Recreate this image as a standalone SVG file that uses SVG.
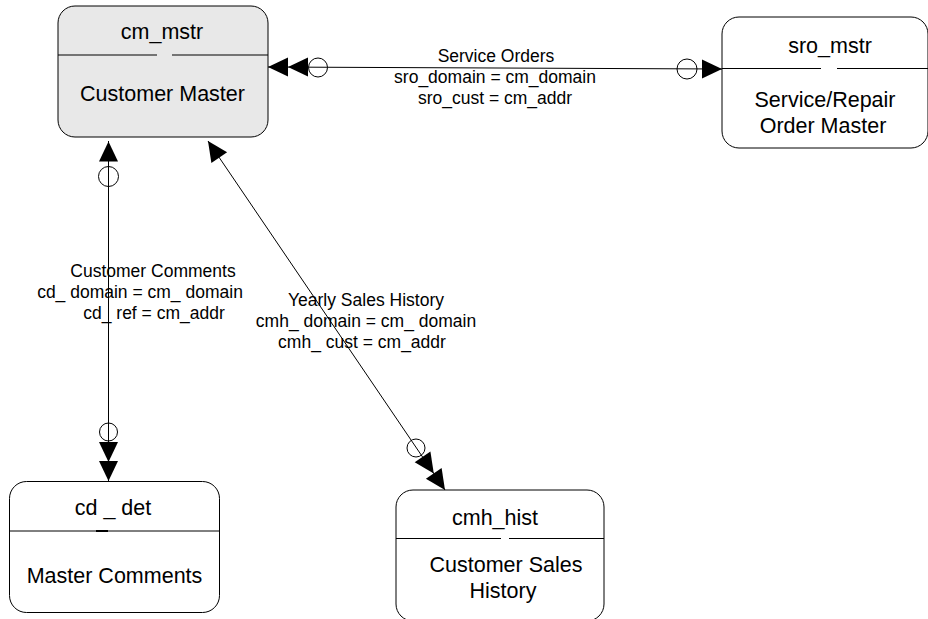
<svg xmlns="http://www.w3.org/2000/svg" xmlns:xlink="http://www.w3.org/1999/xlink" width="928" height="619" viewBox="0 0 928 619">
<style>
.box{fill:#ffffff;stroke:#000;stroke-width:1}
.box.hl{fill:#e8e8e8}
.div{stroke:#000;stroke-width:1;fill:none}
.nt{font-family:"Liberation Sans",Arial,sans-serif;font-size:21.5px;fill:#000;text-anchor:middle}
.lt{font-family:"Liberation Sans",Arial,sans-serif;font-size:17.5px;fill:#000;text-anchor:middle}
.ln{stroke:#000;stroke-width:1;fill:none}
.ah{fill:#000;stroke:none}
.ci{fill:none;stroke:#000;stroke-width:1}
</style>
<defs>
<polygon id="arr" class="ah" points="0,0 -20,-9.5 -20,9.5"/>
</defs>
<rect width="928" height="619" fill="#ffffff"/>

<g id="connectors">
  <!-- Service Orders -->
  <line class="ln" x1="268" y1="67" x2="722" y2="69"/>
  <use xlink:href="#arr" transform="translate(268,67) rotate(180)"/>
  <use xlink:href="#arr" transform="translate(288,67) rotate(180)"/>
  <circle class="ci" cx="318" cy="67.5" r="9.5"/>
  <circle class="ci" cx="687" cy="69" r="10"/>
  <use xlink:href="#arr" transform="translate(722,69)"/>
  <text class="lt" x="496" y="62">Service Orders</text>
  <text class="lt" x="495" y="83">sro_domain = cm_domain</text>
  <text class="lt" x="495" y="104">sro_cust = cm_addr</text>

  <!-- Customer Comments -->
  <line class="ln" x1="108.5" y1="141" x2="108.5" y2="481"/>
  <use xlink:href="#arr" transform="translate(108.5,141.5) rotate(-90)"/>
  <circle class="ci" cx="108.5" cy="176.5" r="10"/>
  <circle class="ci" cx="108.5" cy="432" r="9"/>
  <use xlink:href="#arr" transform="translate(108.5,462) rotate(90)"/>
  <use xlink:href="#arr" transform="translate(108.5,481) rotate(90)"/>
  <text class="lt" x="153" y="277">Customer Comments</text>
  <text class="lt" x="140" y="298">cd_ domain = cm_ domain</text>
  <text class="lt" x="154" y="319">cd_ ref = cm_addr</text>

  <!-- Yearly Sales History -->
  <line class="ln" x1="208" y1="141" x2="445" y2="490"/>
  <use xlink:href="#arr" transform="translate(208,141) rotate(235.8)"/>
  <circle class="ci" cx="416" cy="448" r="9"/>
  <use xlink:href="#arr" transform="translate(433.8,473.5) rotate(55.8)"/>
  <use xlink:href="#arr" transform="translate(445,490) rotate(55.8)"/>
  <text class="lt" x="366" y="306">Yearly Sales History</text>
  <text class="lt" x="366" y="327">cmh_ domain = cm_ domain</text>
  <text class="lt" x="362" y="348">cmh_ cust = cm_addr</text>
</g>

<g id="cm_mstr">
  <rect class="box hl" x="58" y="6" width="210" height="131" rx="17" ry="17"/>
  <line class="div" x1="58" y1="55" x2="157" y2="55"/>
  <line class="div" x1="172" y1="55" x2="268" y2="55"/>
  <text class="nt" x="162" y="39">cm_mstr</text>
  <text class="nt" x="162.5" y="101">Customer Master</text>
</g>

<g id="sro_mstr">
  <rect class="box" x="722" y="17" width="206" height="131" rx="17" ry="17"/>
  <line class="div" x1="722" y1="68.5" x2="821" y2="68.5"/>
  <line class="div" x1="837" y1="68.5" x2="928" y2="68.5"/>
  <text class="nt" x="830" y="53">sro_mstr</text>
  <text class="nt" x="825" y="107">Service/Repair</text>
  <text class="nt" x="823" y="133">Order Master</text>
</g>

<g id="cd_det">
  <rect class="box" x="9.5" y="481.5" width="210" height="131" rx="17" ry="17"/>
  <line class="div" x1="9.5" y1="531" x2="219.5" y2="531"/>
  <line x1="96" y1="531" x2="108" y2="531" stroke="#000" stroke-width="2"/>
  <text class="nt" x="113" y="515">cd _ det</text>
  <text class="nt" x="114.5" y="583">Master Comments</text>
</g>

<g id="cmh_hist">
  <rect class="box" x="396" y="490" width="208" height="131" rx="17" ry="17"/>
  <line class="div" x1="396" y1="538.5" x2="501" y2="538.5"/>
  <line class="div" x1="509" y1="538.5" x2="604" y2="538.5"/>
  <text class="nt" x="495" y="525">cmh_hist</text>
  <text class="nt" x="506" y="572">Customer Sales</text>
  <text class="nt" x="503" y="598">History</text>
</g>
</svg>
